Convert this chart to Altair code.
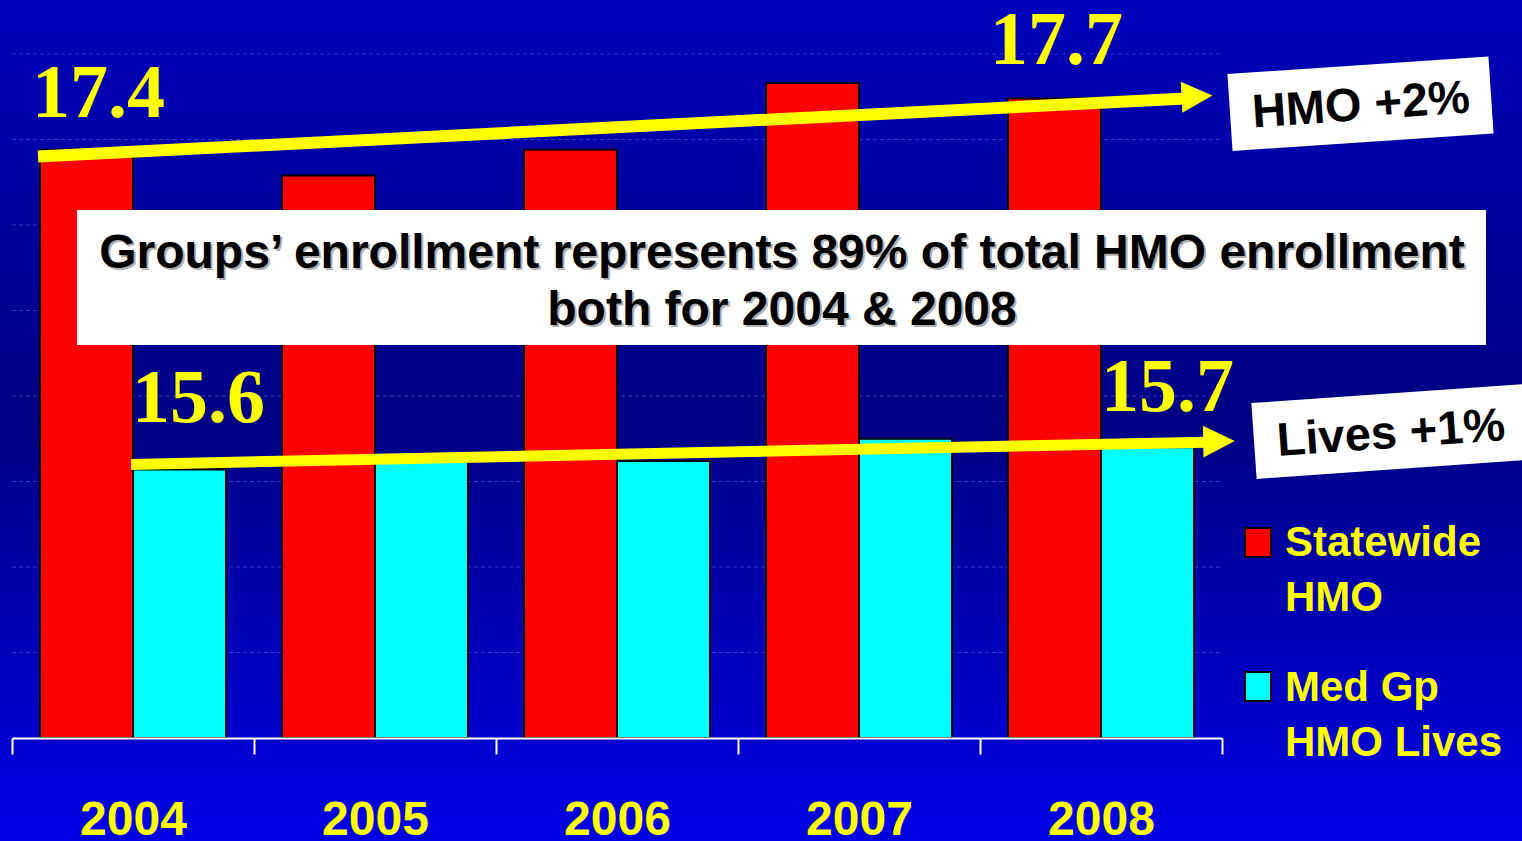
import altair as alt
import pandas as pd

# ---------------- data ----------------
years = ["2004", "2005", "2006", "2007", "2008"]
statewide_hmo = [17.44, 17.29, 17.44, 17.83, 17.74]
medgp_hmo_lives = [15.57, 15.62, 15.62, 15.75, 15.70]
series_names = ["Statewide HMO", "Med Gp HMO Lives"]
series_legend_text = ["Statewide\nHMO", "Med Gp\nHMO Lives"]
series_colors = ["#FF0000", "#00FFFF"]
y_domain = [14, 18]
grid_values = [14.5, 15, 15.5, 16, 16.5, 17, 17.5, 18]

note_text = "Groups\u2019 enrollment represents 89% of total HMO enrollment\nboth for 2004 & 2008"
hmo_change_text = "HMO +2%"
lives_change_text = "Lives +1%"

# arrow start/end levels (in data units)
hmo_arrow = [17.40, 17.74]
lives_arrow = [15.60, 15.73]

# ---------------- layout ----------------
W_TOTAL, H_TOTAL = 1522, 841
LEFT, TOP = 12, 54
PW, PH = 1210, 684
YELLOW = "#FFFF00"
SANS = "Liberation Sans"
SERIF = "Liberation Serif"


def px(x):
    return x - LEFT


def py(y):
    return y - TOP


rows = []
for i, yr in enumerate(years):
    rows.append({"year": yr, "series": series_names[0], "value": statewide_hmo[i]})
    rows.append({"year": yr, "series": series_names[1], "value": medgp_hmo_lives[i]})
df = pd.DataFrame(rows)
one = pd.DataFrame({"a": [0]})

y_scale = alt.Scale(domain=y_domain, zero=False, nice=False)
x_enc = alt.X(
    "year:N",
    sort=years,
    scale=alt.Scale(paddingInner=0, paddingOuter=0),
    axis=alt.Axis(
        title=None,
        labelAngle=0,
        domainColor="white",
        domainWidth=2,
        tickColor="white",
        tickWidth=2,
        tickSize=16,
        tickBand="extent",
        labelColor=YELLOW,
        labelFont=SANS,
        labelFontWeight="bold",
        labelFontSize=48,
        labelBaseline="alphabetic",
        labelPadding=80,
        zindex=1,
    ),
)
xoff_enc = alt.XOffset(
    "series:N", sort=series_names, scale=alt.Scale(paddingInner=0, paddingOuter=0.301)
)

# background gradient
bg = alt.Chart(one).mark_rect(
    color=alt.Gradient(
        gradient="linear",
        stops=[
            alt.GradientStop(color="#0000BA", offset=0),
            alt.GradientStop(color="#000082", offset=0.5),
            alt.GradientStop(color="#0000E6", offset=1),
        ],
        x1=0, x2=0, y1=0, y2=1,
    )
).encode(
    x=alt.value(-LEFT), x2=alt.value(W_TOTAL - LEFT),
    y=alt.value(-TOP), y2=alt.value(H_TOTAL - TOP),
)

# dashed gridlines
grid = alt.Chart(pd.DataFrame({"g": grid_values})).mark_rule(
    color="#4a4ad8", strokeDash=[4, 3], strokeWidth=1, opacity=0.75
).encode(
    y=alt.Y("g:Q", scale=y_scale, axis=None),
    x=alt.value(0), x2=alt.value(PW),
)

bars = alt.Chart(df).mark_bar(stroke="black", strokeWidth=2).encode(
    x=x_enc,
    xOffset=xoff_enc,
    y=alt.Y("value:Q", scale=y_scale, axis=None),
    y2=alt.datum(y_domain[0]),
    color=alt.Color("series:N", scale=alt.Scale(domain=series_names, range=series_colors), legend=None),
)

# value labels for 2004 and 2008
label_specs = [
    (series_names[0], "2004", 12, -33),
    (series_names[0], "2008", 2, -34),
    (series_names[1], "2004", 19, -48),
    (series_names[1], "2008", 20, -36),
]
labels = []
for s, yr, dx, dy in label_specs:
    labels.append(
        alt.Chart(df).transform_filter(
            (alt.datum.series == s) & (alt.datum.year == yr)
        ).mark_text(
            font=SERIF, fontWeight="bold", fontSize=76, color=YELLOW,
            baseline="alphabetic", align="center", dx=dx, dy=dy,
        ).encode(
            x=x_enc, xOffset=xoff_enc,
            y=alt.Y("value:Q", scale=y_scale, axis=None),
            text=alt.Text("value:Q", format=".1f"),
        )
    )

# arrows
hmo_shaft = alt.Chart(one).mark_rule(color=YELLOW, strokeWidth=12, strokeCap="butt").encode(
    x=alt.value(px(38)), x2=alt.value(px(1186)),
    y=alt.datum(hmo_arrow[0]), y2=alt.datum(hmo_arrow[1]),
)
hmo_head = alt.Chart(one).mark_point(
    shape="M-1,-1L1,0L-1,1Z", filled=True, color=YELLOW, opacity=1, size=961, angle=357
).encode(x=alt.value(px(1197)), y=alt.datum(hmo_arrow[1] + 0.012))

lives_shaft = alt.Chart(one).mark_rule(color=YELLOW, strokeWidth=11, strokeCap="butt").encode(
    x=alt.value(px(131)), x2=alt.value(px(1206)),
    y=alt.datum(lives_arrow[0]), y2=alt.datum(lives_arrow[1]),
)
lives_head = alt.Chart(one).mark_point(
    shape="M-1,-1L1,0L-1,1Z", filled=True, color=YELLOW, opacity=1, size=1000, angle=359
).encode(x=alt.value(px(1219)), y=alt.datum(lives_arrow[1] + 0.005))

# rotated white boxes with change text
hmo_box = alt.Chart(one).mark_rule(color="white", strokeWidth=77, strokeCap="butt").encode(
    x=alt.value(px(1230)), x2=alt.value(px(1491)),
    y=alt.value(py(112.5)), y2=alt.value(py(95)),
)
hmo_txt = alt.Chart(one).mark_text(
    text=hmo_change_text, font=SANS, fontWeight="bold", fontSize=47, color="black",
    align="center", baseline="middle", angle=356,
).encode(x=alt.value(px(1361)), y=alt.value(py(106)))

lives_box = alt.Chart(one).mark_rule(color="white", strokeWidth=76, strokeCap="butt").encode(
    x=alt.value(px(1254)), x2=alt.value(px(1540)),
    y=alt.value(py(441)), y2=alt.value(py(421)),
)
lives_txt = alt.Chart(one).mark_text(
    text=lives_change_text, font=SANS, fontWeight="bold", fontSize=47, color="black",
    align="center", baseline="middle", angle=356,
).encode(x=alt.value(px(1391)), y=alt.value(py(434)))

# central note box
note_box = alt.Chart(one).mark_rect(color="white").encode(
    x=alt.value(px(77)), x2=alt.value(px(1486)),
    y=alt.value(py(210)), y2=alt.value(py(345)),
)
note_shadow = alt.Chart(one).mark_text(
    text=note_text, lineBreak="\n", lineHeight=57, font=SANS, fontWeight="bold", fontSize=48,
    color="#B0B0B0", align="center", baseline="alphabetic",
).encode(x=alt.value(px(782) + 2), y=alt.value(py(268) + 2))
note_txt = alt.Chart(one).mark_text(
    text=note_text, lineBreak="\n", lineHeight=57, font=SANS, fontWeight="bold", fontSize=48,
    color="black", align="center", baseline="alphabetic",
).encode(x=alt.value(px(782)), y=alt.value(py(268)))

# manual legend
legend_layers = []
for i, (name, txt, col) in enumerate(zip(series_names, series_legend_text, series_colors)):
    legend_layers.append(
        alt.Chart(one).mark_rect(color=col, stroke="black", strokeWidth=2).encode(
            x=alt.value(px(1245)), x2=alt.value(px(1271)),
            y=alt.value(py(528 + 144 * i)), y2=alt.value(py(557 + 144 * i)),
        )
    )
    legend_layers.append(
        alt.Chart(one).mark_text(
            text=txt, lineBreak="\n", lineHeight=55, font=SANS, fontWeight="bold", fontSize=42,
            color=YELLOW, align="left", baseline="alphabetic",
        ).encode(x=alt.value(px(1285)), y=alt.value(py(556 + 145 * i)))
    )

chart = alt.layer(
    bg, grid, bars, *labels,
    hmo_shaft, hmo_head, lives_shaft, lives_head,
    note_box, note_shadow, note_txt,
    hmo_box, hmo_txt, lives_box, lives_txt,
    *legend_layers,
).properties(
    width=PW,
    height=PH,
    autosize="none",
    padding={"left": LEFT, "top": TOP, "right": W_TOTAL - LEFT - PW, "bottom": H_TOTAL - TOP - PH},
    background="#00009A",
).configure_view(stroke=None)

chart.save("out.html", embed_options={"renderer": "svg", "actions": False})
